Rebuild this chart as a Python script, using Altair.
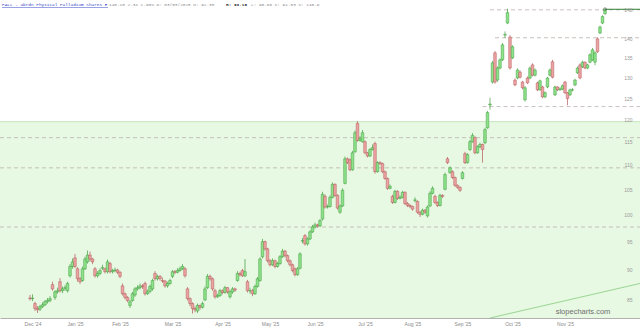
import json
import altair as alt
import pandas as pd

# ---- data (PALL daily candles) ----
opens = [
    85.3, 85.2, 84.4, 83.6, 83.5, 83.9, 84.2, 84.7, 84.9, 87.5,
    85.4, 86.3, 88.0, 86.5, 86.9, 86.5, 89.0, 90.6, 92.1, 90.2,
    88.5, 88.2, 90.2, 91.4, 92.6, 91.9, 90.2, 89.0, 89.4, 90.3,
    90.2, 89.7, 91.1, 89.7, 89.9, 90.0, 89.6, 87.3, 86.0, 85.4,
    84.1, 84.9, 85.8, 86.8, 87.0, 87.3, 87.7, 86.0, 86.4, 86.8,
    89.4, 88.5, 88.9, 88.2, 88.1, 87.3, 87.7, 88.9, 89.7, 89.6,
    89.9, 90.2, 90.2, 86.8, 85.2, 84.4, 83.6, 83.2, 84.1, 83.8,
    85.0, 87.0, 88.9, 88.5, 86.5, 85.5, 85.7, 86.5, 86.2, 87.0,
    85.5, 86.3, 86.8, 88.2, 89.4, 89.9, 89.0, 88.0, 86.5, 86.5,
    86.0, 87.2, 88.2, 92.3, 95.0, 93.7, 91.6, 90.9, 91.6, 90.6,
    91.1, 92.3, 93.3, 92.5, 91.6, 90.9, 90.2, 89.2, 90.3, 95.1,
    96.1, 94.6, 95.5, 96.8, 97.7, 98.1, 97.9, 99.2, 103.6, 101.5,
    101.6, 103.4, 106.0, 103.8, 100.5, 101.7, 106.2, 111.3, 111.1, 109.0,
    112.8, 119.1, 115.3, 115.0, 115.0, 112.6, 111.9, 113.3, 114.6, 108.6,
    110.5, 110.3, 108.6, 107.2, 105.2, 103.6, 102.4, 104.6, 103.2, 103.4,
    104.4, 102.2, 101.8, 101.6, 102.8, 102.6, 100.5, 100.1, 100.9, 99.8,
    101.7, 104.2, 103.6, 102.4, 101.8, 103.8, 105.0, 111.3, 108.4, 108.6,
    107.4, 105.8, 105.4, 107.2, 112.4, 110.5, 113.3, 115.0, 115.9, 112.6,
    113.9, 114.4, 114.8, 118.1, 123.4, 128.9, 136.3, 129.4, 132.4, 134.5,
    141.0, 144.3, 140.5, 135.0, 129.4, 129.9, 131.4, 128.9, 124.6, 129.9,
    129.9, 133.2, 130.6, 128.7, 127.0, 127.7, 125.3, 127.7, 130.6, 134.0,
    125.8, 127.7, 127.0, 127.2, 128.9, 126.3, 125.8, 127.0, 128.2, 131.2,
    133.2, 132.7, 133.9, 132.4, 133.9, 134.5, 133.9, 140.0, 141.6, 144.3,
    146.9,
]
highs = [
    85.8, 85.9, 84.7, 84.0, 84.2, 84.6, 85.0, 85.3, 85.6, 88.0,
    86.6, 87.0, 88.6, 87.2, 87.4, 88.0, 91.0, 92.0, 92.8, 90.5,
    88.8, 90.6, 92.3, 93.4, 93.2, 92.1, 90.5, 89.8, 90.3, 90.9,
    90.4, 91.8, 91.4, 90.2, 90.4, 90.2, 89.8, 87.7, 86.2, 85.6,
    85.0, 86.3, 87.1, 87.4, 87.7, 87.6, 88.0, 86.7, 87.5, 88.5,
    89.8, 89.2, 89.1, 88.7, 88.3, 88.0, 88.5, 90.0, 90.0, 90.3,
    90.6, 91.0, 90.5, 87.1, 85.4, 84.6, 83.9, 84.4, 84.2, 84.7,
    87.2, 89.3, 89.2, 88.7, 86.8, 86.0, 86.8, 86.7, 87.3, 87.1,
    86.6, 87.1, 87.0, 89.8, 89.7, 90.2, 91.9, 88.3, 87.0, 86.8,
    87.5, 88.8, 92.2, 95.5, 95.2, 93.9, 91.9, 92.0, 91.8, 91.4,
    92.6, 93.7, 93.5, 92.7, 91.8, 91.1, 90.4, 90.5, 93.1, 95.7,
    96.4, 95.8, 97.1, 98.1, 98.5, 98.3, 99.2, 104.5, 104.0, 102.0,
    103.8, 106.4, 106.2, 104.0, 102.0, 105.2, 111.8, 111.6, 111.4, 113.0,
    117.5, 119.6, 116.2, 117.6, 115.3, 112.8, 113.6, 114.4, 115.0, 110.8,
    110.8, 110.5, 108.8, 107.4, 106.0, 103.9, 104.9, 104.8, 103.8, 104.7,
    104.6, 102.5, 102.1, 101.8, 103.4, 102.8, 100.7, 101.2, 101.1, 101.8,
    104.6, 105.6, 103.9, 102.6, 104.1, 104.0, 108.4, 111.7, 109.7, 108.9,
    107.6, 106.0, 105.6, 108.7, 112.8, 112.5, 115.4, 116.9, 116.2, 114.2,
    114.8, 114.6, 118.1, 122.0, 125.1, 134.2, 136.8, 132.8, 134.9, 138.9,
    142.0, 148.3, 141.0, 138.3, 129.8, 132.3, 131.8, 129.2, 127.9, 130.3,
    132.8, 133.6, 132.3, 129.0, 129.5, 128.0, 126.6, 130.2, 132.3, 134.5,
    128.0, 127.9, 127.6, 128.3, 129.2, 126.5, 127.3, 127.4, 129.7, 132.8,
    133.6, 134.3, 134.1, 133.5, 136.2, 137.6, 136.7, 140.4, 143.6, 146.5,
    148.5,
]
lows = [
    84.9, 84.8, 83.2, 82.9, 83.2, 83.7, 84.0, 84.4, 84.6, 86.5,
    85.0, 86.0, 86.2, 86.1, 86.5, 86.2, 88.7, 90.2, 90.3, 88.0,
    87.6, 88.0, 90.0, 91.1, 91.5, 91.0, 88.7, 88.7, 89.1, 90.0,
    89.4, 89.4, 89.4, 89.4, 89.6, 89.3, 88.6, 85.7, 85.1, 84.6,
    83.7, 84.7, 85.5, 86.5, 86.7, 86.8, 85.7, 85.8, 86.1, 86.5,
    88.2, 88.2, 88.2, 87.8, 87.0, 87.0, 87.5, 88.6, 89.3, 89.4,
    89.7, 90.0, 88.7, 84.9, 84.0, 82.8, 83.0, 82.9, 83.4, 83.6,
    84.8, 86.8, 88.2, 86.5, 85.2, 85.3, 85.5, 85.9, 86.0, 86.0,
    85.2, 86.0, 86.3, 88.0, 88.9, 88.8, 88.8, 86.2, 86.0, 85.6,
    85.8, 87.0, 88.0, 92.0, 93.4, 91.3, 90.6, 90.7, 90.3, 90.4,
    90.9, 92.1, 92.2, 91.3, 90.6, 89.6, 88.9, 89.0, 90.1, 94.7,
    94.3, 94.3, 95.3, 96.6, 97.4, 97.6, 97.7, 98.9, 101.2, 101.2,
    101.4, 103.2, 103.5, 101.0, 100.2, 101.5, 106.0, 110.2, 108.7, 108.8,
    112.6, 115.0, 115.0, 114.8, 112.3, 111.6, 111.7, 113.1, 108.2, 108.4,
    110.0, 108.3, 106.9, 104.9, 105.0, 102.1, 102.2, 102.9, 103.0, 103.2,
    101.9, 101.5, 101.3, 100.8, 102.4, 100.2, 99.6, 99.9, 100.2, 99.5,
    101.5, 104.0, 102.1, 101.5, 101.6, 103.3, 104.8, 110.2, 108.2, 107.1,
    105.5, 105.1, 104.5, 107.0, 110.2, 110.3, 113.0, 114.8, 112.3, 112.4,
    113.6, 110.5, 114.5, 117.9, 122.3, 128.5, 128.5, 129.0, 132.1, 134.2,
    140.2, 144.0, 132.0, 134.7, 127.9, 129.6, 129.8, 127.1, 124.2, 128.4,
    129.6, 130.3, 130.3, 126.7, 126.8, 125.0, 125.0, 127.4, 130.3, 129.8,
    125.5, 126.7, 126.8, 126.9, 126.0, 123.3, 125.5, 126.6, 127.9, 130.9,
    129.6, 132.4, 132.1, 132.1, 133.6, 134.2, 133.1, 136.3, 141.3, 144.0,
    146.6,
]
closes = [
    85.2, 85.3, 83.6, 83.4, 83.9, 84.2, 84.7, 84.9, 85.2, 86.8,
    86.3, 86.5, 86.5, 86.8, 87.0, 87.7, 90.6, 91.4, 90.6, 88.5,
    88.0, 90.2, 91.9, 92.6, 91.9, 91.4, 89.0, 89.4, 89.9, 90.4,
    89.7, 91.4, 89.7, 89.9, 90.0, 89.6, 88.9, 86.0, 85.4, 84.9,
    84.7, 86.0, 86.8, 87.0, 87.3, 87.2, 86.0, 86.3, 87.2, 88.2,
    88.5, 88.9, 88.5, 88.1, 87.3, 87.7, 88.2, 89.7, 89.6, 89.9,
    90.2, 90.6, 89.0, 85.2, 84.4, 83.6, 83.4, 84.1, 83.8, 84.4,
    86.8, 88.9, 88.5, 86.8, 85.5, 85.7, 86.5, 86.2, 87.0, 86.3,
    86.3, 86.8, 86.6, 89.4, 89.2, 89.0, 89.7, 86.5, 86.5, 86.0,
    87.2, 88.5, 91.9, 95.0, 93.7, 91.6, 90.9, 91.6, 90.6, 91.1,
    92.3, 93.3, 92.5, 91.6, 90.9, 89.9, 89.2, 90.2, 92.8, 95.2,
    94.6, 95.5, 96.8, 97.7, 98.1, 97.9, 98.9, 104.0, 101.5, 101.6,
    103.4, 106.0, 103.8, 101.3, 101.7, 104.8, 111.3, 110.5, 109.0, 112.6,
    117.0, 115.3, 115.7, 117.0, 112.6, 111.9, 113.3, 113.7, 108.6, 110.5,
    110.3, 108.6, 107.2, 105.2, 105.6, 102.4, 104.6, 103.2, 103.4, 104.4,
    102.2, 101.8, 101.6, 101.1, 102.9, 100.5, 100.1, 100.9, 100.5, 101.5,
    104.2, 105.2, 102.4, 101.8, 103.8, 103.6, 108.0, 110.5, 109.4, 107.4,
    105.8, 105.4, 104.8, 108.4, 110.5, 112.2, 115.0, 116.4, 112.6, 113.9,
    114.4, 113.3, 117.7, 121.6, 123.6, 133.7, 128.9, 132.4, 134.5, 138.4,
    141.2, 147.2, 132.4, 137.9, 128.2, 131.9, 130.1, 127.5, 127.5, 128.7,
    132.4, 130.6, 131.9, 127.0, 129.2, 125.3, 126.3, 129.9, 131.9, 130.1,
    127.7, 127.0, 127.2, 128.0, 126.3, 124.9, 127.0, 127.0, 129.4, 132.4,
    129.9, 133.9, 132.4, 133.2, 135.8, 137.1, 136.3, 136.6, 143.2, 146.1,
    148.15,
]

# first session of each month (candle index) and its label
month_idx = [1, 18, 36, 57, 77, 96, 114, 134, 153, 173, 193, 214]
month_lbl = ["Dec '24", "Jan '25", "Feb '25", "Mar '25", "Apr '25", "May '25",
             "Jun '25", "Jul '25", "Aug '25", "Sep '25", "Oct '25", "Nov '25"]
y_ticks = [85, 90, 95, 100, 105, 110, 115, 120, 125, 130, 135, 140, 148]

# horizontal levels: price, first candle index
level_price = [148.0, 140.3, 123.0, 115.9, 109.4, 97.7]
level_start = [184, 186, 181, -12, -12, -12]
zone_top = 119.5
trend_idx = [184, 244]
trend_price = [82.1, 87.7]

title_name = "PALL - abrdn Physical Palladium Shares E"
title_stats = "148.15 2.34 1.60% D: 03/03/2025 O:  92.36"
title_high = "H:  93.16"
title_rest = "L:  90.66 C:  91.53 V: 148.9"

X_DOMAIN = [-12, 244]
Y_DOMAIN = [82.1, 150.8]
W, H = 640, 318

# ---- tables ----
n = len(closes)
candles = pd.DataFrame({"i": list(range(n)), "o": opens, "h": highs, "l": lows, "c": closes})
levels = pd.DataFrame({"i": level_start, "e": [X_DOMAIN[1]] * len(level_price), "p": level_price})
zone = pd.DataFrame({"i": [X_DOMAIN[0]], "e": [X_DOMAIN[1]], "p": [zone_top], "b": [Y_DOMAIN[0]]})
trend = pd.DataFrame({"i": trend_idx, "p": trend_price})
last = pd.DataFrame({"i": [n - 1], "e": [X_DOMAIN[1]], "p": [closes[-1]]})

label_expr = "{}[indexof({}, datum.value)]".format(json.dumps(month_lbl), json.dumps(month_idx))

X_AXIS = alt.Axis(values=month_idx, labelExpr=label_expr, grid=False, ticks=False,
                  domainColor="#b0b0b0", labelFontSize=5, labelColor="#8a8a8a",
                  labelPadding=3, labelFont="Liberation Sans", title=None, zindex=1)
Y_AXIS = alt.Axis(orient="right", values=y_ticks, format=".0f", grid=False, ticks=False,
                  domain=False, labelFontSize=5, labelColor="#9a9a9a", labelAlign="right",
                  labelPadding=-8, labelFont="Liberation Sans", title=None, zindex=1)


def X(field):
    return alt.X(field, type="quantitative",
                 scale=alt.Scale(domain=X_DOMAIN, nice=False, zero=False, padding=0),
                 axis=X_AXIS)


def Y(field):
    return alt.Y(field, type="quantitative",
                 scale=alt.Scale(type="log", domain=Y_DOMAIN, nice=False, zero=False, padding=0),
                 axis=Y_AXIS)


GREEN_F, GREEN_S = "#8ee38a", "#3f9c3c"
RED_F, RED_S = "#eea3a3", "#b35858"
up = "datum.c >= datum.o"

zone_rect = alt.Chart(zone).mark_rect(color="#e7f8e3").encode(
    x=X("i"), x2="e:Q", y=Y("p"), y2="b:Q")
zone_edge = alt.Chart(zone).mark_rule(color="#c4e8bc", strokeWidth=1).encode(
    x=X("i"), x2="e:Q", y=Y("p"))

level_rules = alt.Chart(levels).mark_rule(color="#bdb3ad", strokeDash=[4, 3], strokeWidth=0.8).encode(
    x=X("i"), x2="e:Q", y=Y("p"))

trend_line = alt.Chart(trend).mark_line(color="#9bd593", strokeWidth=1, clip=True).encode(
    x=X("i"), y=Y("p"))

wicks = alt.Chart(candles).mark_rule(strokeWidth=0.7).encode(
    x=X("i"), y=Y("l"), y2="h:Q",
    color=alt.condition(up, alt.value(GREEN_S), alt.value(RED_S)))

bodies = alt.Chart(candles).mark_bar(size=2.6, strokeWidth=0.5).encode(
    x=X("i"), y=Y("o"), y2="c:Q",
    fill=alt.condition(up, alt.value(GREEN_F), alt.value(RED_F)),
    stroke=alt.condition(up, alt.value(GREEN_S), alt.value(RED_S)))

last_line = alt.Chart(last).mark_rule(color="#2f7d32", strokeWidth=1).encode(
    x=X("i"), x2="e:Q", y=Y("p"))
last_pt = alt.Chart(last).mark_point(shape="circle", size=10, filled=False, color="#555555",
                                     strokeWidth=0.7).encode(x=X("i"), y=Y("p"))


def label(text, x, color, bold=False, size=4.4, font="Liberation Mono", y=5):
    return alt.Chart(pd.DataFrame({"t": [text]})).mark_text(
        align="left", baseline="middle", fontSize=size, font=font,
        fontWeight="bold" if bold else "normal", color=color).encode(
        text="t:N", x=alt.value(x), y=alt.value(y))


t1 = label(title_name, 2, "#3346c8")
t1u = alt.Chart(pd.DataFrame({"t": [1]})).mark_rule(color="#3346c8", strokeWidth=0.5).encode(
    x=alt.value(2), x2=alt.value(108), y=alt.value(7.5))
t2 = label(title_stats, 109, "#8c8c8c")
t3 = label(title_high, 226, "#222222", bold=True)
t4 = label(title_rest, 251, "#8c8c8c")
wm = alt.Chart(pd.DataFrame({"t": ["slopecharts.com"]})).mark_text(
    align="center", baseline="middle", fontSize=7.5, font="Liberation Sans",
    color="#6f6f6f").encode(text="t:N", x=alt.value(583), y=alt.value(312))

chart = alt.layer(
    zone_rect, zone_edge, level_rules, trend_line, wicks, bodies, last_line, last_pt,
    t1, t1u, t2, t3, t4, wm
).properties(
    width=W, height=H,
    padding={"left": 0, "top": 0, "right": 0, "bottom": 11},
    autosize=alt.AutoSizeParams(type="none"),
    background="white",
).configure_view(stroke=None)

chart.save("out.html", embed_options={"renderer": "svg", "actions": False})
